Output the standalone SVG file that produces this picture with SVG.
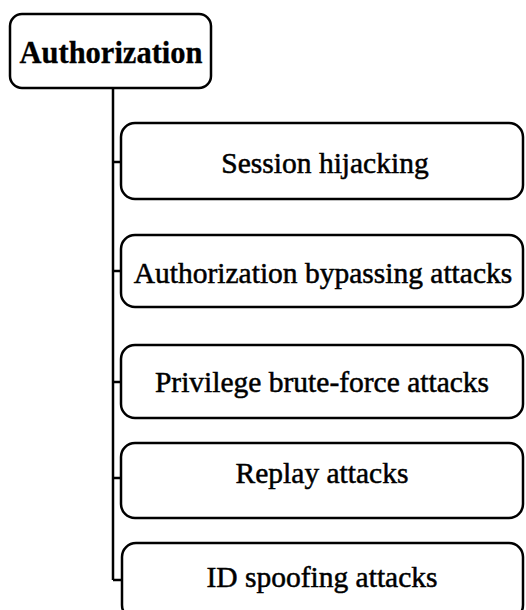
<svg xmlns="http://www.w3.org/2000/svg" width="526" height="610" viewBox="0 0 526 610">
<style>
.box{fill:#fff;stroke:#000;stroke-width:2.5}
.ln{fill:none;stroke:#000;stroke-width:2.5}
.t{font-family:"Liberation Serif","Times New Roman",serif;font-size:29.5px;fill:#000;stroke:#000;stroke-width:0.5;text-anchor:middle}
.r{font-weight:bold;font-size:30.5px;stroke-width:0.3}
</style>
<rect width="526" height="610" fill="#fff"/>
<g id="connectors">
<path class="ln" d="M113 88 V580 M113 162 H121 M113 271 H121 M113 382 H121 M113 478 H121 M113 580 H122"/>
</g>
<g id="root">
<rect class="box" x="10" y="14" width="201" height="74" rx="12"/>
<text class="t r" x="111" y="63">Authorization</text>
</g>
<g id="n1">
<rect class="box" x="121" y="123" width="402" height="76" rx="14"/>
<text class="t" x="325" y="173">Session hijacking</text>
</g>
<g id="n2">
<rect class="box" x="121" y="235" width="402" height="72" rx="14"/>
<text class="t" x="323" y="283">Authorization bypassing attacks</text>
</g>
<g id="n3">
<rect class="box" x="121" y="345" width="402" height="73" rx="14"/>
<text class="t" x="322" y="392">Privilege brute-force attacks</text>
</g>
<g id="n4">
<rect class="box" x="121" y="443" width="402" height="75" rx="14"/>
<text class="t" x="322" y="483">Replay attacks</text>
</g>
<g id="n5">
<rect class="box" x="122" y="543" width="401" height="76" rx="14"/>
<text class="t" x="322" y="587">ID spoofing attacks</text>
</g>
</svg>
